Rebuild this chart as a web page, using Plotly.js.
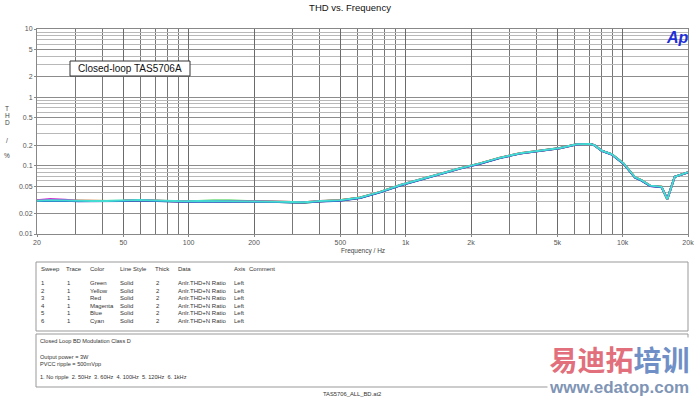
<!DOCTYPE html>
<html><head><meta charset="utf-8">
<script src="https://cdn.plot.ly/plotly-3.0.1.min.js"></script>
<style>html,body{margin:0;padding:0;background:#fff}#chart{width:700px;height:399px}</style>
</head><body><div id="chart"></div>
<script>
// ---------- data ----------
const freq = [20, 23, 27, 31, 36, 42, 50, 59, 70, 82,
  95, 110, 130, 155, 185, 220, 260, 300, 340, 404,
  498, 617, 763, 943, 1164, 1440, 1780, 2200, 2720, 3360,
  4160, 5140, 6120, 7080, 7400, 8000, 8900, 10100, 11400, 12200,
  13400, 15100, 16060, 17360, 20000];

const thdGreen = [0.0306, 0.0310, 0.0307, 0.0303, 0.0304, 0.0303, 0.0306, 0.0312, 0.0306, 0.0302,
  0.0300, 0.0303, 0.0309, 0.0310, 0.0303, 0.0300, 0.0296, 0.0290, 0.0287, 0.0302,
  0.0311, 0.0340, 0.0412, 0.0518, 0.0628, 0.0770, 0.0912, 0.1075, 0.130, 0.151,
  0.167, 0.181, 0.205, 0.207, 0.200, 0.166, 0.147, 0.107, 0.0672, 0.0612,
  0.0507, 0.0490, 0.0323, 0.0688, 0.0798];
const thdYellow = [0.0307, 0.0311, 0.0307, 0.0304, 0.0304, 0.0304, 0.0306, 0.0313, 0.0307, 0.0302,
  0.0301, 0.0303, 0.0303, 0.0305, 0.0303, 0.0300, 0.0296, 0.0292, 0.0291, 0.0302,
  0.0311, 0.0341, 0.0413, 0.0519, 0.0629, 0.0771, 0.0913, 0.1078, 0.1305, 0.1515,
  0.1675, 0.1805, 0.2045, 0.2075, 0.1995, 0.1655, 0.1465, 0.1075, 0.0674, 0.0614,
  0.0508, 0.0491, 0.0322, 0.0689, 0.0799];
const thdRed = [0.0308, 0.0312, 0.0308, 0.0305, 0.0305, 0.0304, 0.0307, 0.0314, 0.0307, 0.0303,
  0.0301, 0.0304, 0.0303, 0.0306, 0.0304, 0.0301, 0.0297, 0.0293, 0.0292, 0.0303,
  0.0312, 0.0342, 0.0414, 0.0520, 0.0630, 0.0773, 0.0915, 0.108, 0.131, 0.152,
  0.168, 0.181, 0.205, 0.208, 0.200, 0.166, 0.147, 0.108, 0.0676, 0.0616,
  0.0510, 0.0492, 0.0322, 0.0690, 0.0800];
const thdMagenta = [0.0312, 0.0324, 0.0318, 0.0305, 0.0304, 0.0303, 0.0306, 0.0312, 0.0306, 0.0302,
  0.0300, 0.0302, 0.0302, 0.0305, 0.0303, 0.0300, 0.0296, 0.0292, 0.0291, 0.0302,
  0.0309, 0.0338, 0.0410, 0.0516, 0.0626, 0.0768, 0.0910, 0.107, 0.130, 0.151,
  0.167, 0.180, 0.204, 0.207, 0.199, 0.165, 0.146, 0.107, 0.0670, 0.0610,
  0.0505, 0.0488, 0.0324, 0.0686, 0.0796];
const thdBlue = [0.0305, 0.0309, 0.0306, 0.0302, 0.0301, 0.0300, 0.0303, 0.0310, 0.0303, 0.0298,
  0.0296, 0.0300, 0.0299, 0.0302, 0.0300, 0.0297, 0.0294, 0.0290, 0.0288, 0.0300,
  0.0306, 0.0336, 0.0406, 0.0512, 0.0622, 0.0762, 0.0905, 0.1065, 0.129, 0.150,
  0.166, 0.180, 0.204, 0.207, 0.199, 0.165, 0.146, 0.106, 0.0665, 0.0605,
  0.0502, 0.0485, 0.0325, 0.0685, 0.0795];
const thdCyan = [0.0307, 0.0312, 0.0308, 0.0304, 0.0305, 0.0304, 0.0307, 0.0314, 0.0308, 0.0303,
  0.0301, 0.0304, 0.0303, 0.0306, 0.0304, 0.0301, 0.0297, 0.0293, 0.0292, 0.0303,
  0.0312, 0.0342, 0.0414, 0.0520, 0.0630, 0.0773, 0.0915, 0.108, 0.131, 0.152,
  0.168, 0.181, 0.205, 0.208, 0.200, 0.166, 0.147, 0.108, 0.0676, 0.0616,
  0.0510, 0.0492, 0.0322, 0.0690, 0.0800];

const sweepNums = ['1', '2', '3', '4', '5', '6'];
const traceNums = ['1', '1', '1', '1', '1', '1'];
const colorNames = ['Green', 'Yellow', 'Red', 'Magenta', 'Blue', 'Cyan'];
const lineStyles = ['Solid', 'Solid', 'Solid', 'Solid', 'Solid', 'Solid'];
const thicks = ['2', '2', '2', '2', '2', '2'];
const dataNames = ['Anlr.THD+N Ratio', 'Anlr.THD+N Ratio', 'Anlr.THD+N Ratio', 'Anlr.THD+N Ratio', 'Anlr.THD+N Ratio', 'Anlr.THD+N Ratio'];
const axisNames = ['Left', 'Left', 'Left', 'Left', 'Left', 'Left'];
const tableHeader = ['Sweep', 'Trace', 'Color', 'Line Style', 'Thick', 'Data', 'Axis', 'Comment'];
const notes = ['Closed Loop BD Modulation Class D', 'Output power = 3W', 'PVCC ripple = 500mVpp',
  '1. No ripple  2. 50Hz  3. 60Hz  4. 100Hz  5. 120Hz  6. 1kHz'];

const xTickVals = [20, 50, 100, 200, 500, 1000, 2000, 5000, 10000, 20000];
const xTickText = ['20', '50', '100', '200', '500', '1k', '2k', '5k', '10k', '20k'];
const xMinorVals = [30, 40, 60, 70, 80, 90, 300, 400, 600, 700, 800, 900, 3000, 4000, 6000, 7000, 8000, 9000];
const yTickVals = [0.01, 0.02, 0.05, 0.1, 0.2, 0.5, 1, 2, 5, 10];
const yTickText = ['0.01', '0.02', '0.05', '0.1', '0.2', '0.5', '1', '2', '5', '10'];
const yMinorVals = [0.03, 0.04, 0.06, 0.07, 0.08, 0.09, 0.3, 0.4, 0.6, 0.7, 0.8, 0.9, 3, 4, 6, 7, 8, 9];

// ---------- styling ----------
const series = [thdGreen, thdYellow, thdRed, thdMagenta, thdBlue, thdCyan];
const lineColors = ['#2ecc40', '#e8e800', '#f02020', '#d030d0', '#1f3cc4', '#44dcd2'];
const FONT = 'Liberation Sans, Arial, sans-serif';

const L = 37, R = 688, T = 29, B = 234;
const px = X => (X - L) / (R - L);
const py = Y => 1 - (Y - T) / (B - T);

const traces = series.map((vals, i) => ({
  x: freq, y: vals, type: 'scatter', mode: 'lines',
  line: { color: lineColors[i], width: 2 },
  name: colorNames[i], hoverinfo: 'skip', showlegend: false
}));

const ann = [];
const shapes = [];
function txt(text, X, Y, size, opts) {
  ann.push(Object.assign({
    text: text, xref: 'paper', yref: 'paper', x: px(X), y: py(Y),
    xanchor: 'left', yanchor: 'middle', showarrow: false,
    font: { family: FONT, size: size, color: '#333' }
  }, opts || {}));
}

// y axis title letters
[['T', 108], ['H', 115.5], ['D', 123], ['/', 140], ['%', 155]].forEach(([c, Y]) =>
  txt(c, 7, Y, 6.5, { xanchor: 'center', font: { family: FONT, size: 6.5, color: '#444' } }));

// x axis title
txt('Frequency / Hz', 363, 251, 6.5, { xanchor: 'center', font: { family: FONT, size: 6.5, color: '#444' } });

// legend box
shapes.push({ type: 'rect', xref: 'paper', yref: 'paper', x0: px(70), x1: px(190), y0: py(61), y1: py(76),
  line: { color: '#333', width: 1 }, fillcolor: '#fff', layer: 'above' });
txt('Closed-loop TAS5706A', 130, 68.8, 10, { xanchor: 'center', font: { family: FONT, size: 10, color: '#111' } });

// Ap logo
txt('Ap', 677, 37, 16, { xanchor: 'center', font: { family: FONT, size: 16, color: '#1f2fd8', weight: 'bold', style: 'italic' } });

// table
shapes.push({ type: 'rect', xref: 'paper', yref: 'paper', x0: px(36), x1: px(688), y0: py(262), y1: py(331),
  line: { color: '#999', width: 1 }, fillcolor: 'rgba(0,0,0,0)' });
shapes.push({ type: 'rect', xref: 'paper', yref: 'paper', x0: px(36), x1: px(688), y0: py(334), y1: py(387),
  line: { color: '#999', width: 1 }, fillcolor: 'rgba(0,0,0,0)' });
const colX = [39, 64, 88, 118, 153, 176, 232, 247];
tableHeader.forEach((h, j) => txt(h, colX[j], 269, 6));
const rowY = [283, 290.5, 298, 305.5, 313, 320.5];
const cols = [sweepNums, traceNums, colorNames, lineStyles, thicks, dataNames, axisNames];
const dataColX = [39, 65, 88, 118, 154, 176, 232];
cols.forEach((col, j) => col.forEach((v, i) => txt(v, dataColX[j], rowY[i], 6)));
const noteY = [341, 357, 364, 377];
notes.forEach((n, i) => txt(n, 38, noteY[i], 5.6));
txt('TAS5706_ALL_BD.at2', 352, 394, 5.8, { xanchor: 'center' });

// watermark (one text block, two lines)
txt('<span style="font-size:28px;font-family:\'Noto Sans CJK SC\'"><span style="color:#e2707c">易迪拓</span><span style="color:#6f8fc6">培训</span></span><br>www.edatop.com',
  619, 368, 17,
  { xanchor: 'center', align: 'center', bgcolor: '#fff', font: { family: FONT, size: 17, weight: 'bold', color: '#7f95b6' } });

const layout = {
  width: 700, height: 399,
  margin: { l: L, r: 700 - R, t: T, b: 399 - B, pad: 0 },
  paper_bgcolor: '#fff', plot_bgcolor: '#fff',
  title: { text: 'THD vs. Frequency', font: { family: FONT, size: 9.5, color: '#111' },
    x: 0.5, xref: 'container', xanchor: 'center', y: 1 - 8 / 399, yref: 'container', yanchor: 'middle' },
  xaxis: {
    type: 'log', range: [Math.log10(20), Math.log10(20000)],
    tickmode: 'array', tickvals: xTickVals, ticktext: xTickText,
    ticks: 'outside', ticklen: 2, tickcolor: '#888',
    tickfont: { family: FONT, size: 7, color: '#555' },
    showgrid: true, gridcolor: '#6a6a6a', gridwidth: 1,
    minor: { tickmode: 'array', tickvals: xMinorVals, showgrid: true, gridcolor: '#777', gridwidth: 1, ticks: '' },
    showline: true, mirror: true, linecolor: '#888', linewidth: 1, zeroline: false, fixedrange: true
  },
  yaxis: {
    type: 'log', range: [-2, 1],
    tickmode: 'array', tickvals: yTickVals, ticktext: yTickText,
    ticks: 'outside', ticklen: 2, tickcolor: '#888',
    tickfont: { family: FONT, size: 7, color: '#555' },
    showgrid: true, gridcolor: '#8c8c8c', gridwidth: 1,
    minor: { tickmode: 'array', tickvals: yMinorVals, showgrid: true, gridcolor: '#b8b8b8', gridwidth: 1, ticks: '' },
    showline: true, mirror: true, linecolor: '#888', linewidth: 1, zeroline: false, fixedrange: true
  },
  annotations: ann,
  shapes: shapes,
  showlegend: false
};

Plotly.newPlot('chart', traces, layout, { staticPlot: true, displayModeBar: false });
</script>
</body></html>
